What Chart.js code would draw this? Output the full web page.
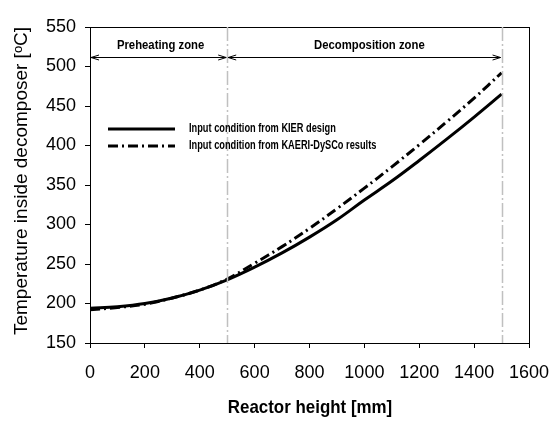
<!DOCTYPE html>
<html>
<head>
<meta charset="utf-8">
<script src="https://cdn.jsdelivr.net/npm/chart.js@4"></script>
<style>
  html, body { margin: 0; padding: 0; background: #ffffff; }
  #wrap { width: 560px; height: 428px; position: relative; }
</style>
</head>
<body>
<div id="wrap"><canvas id="tempChart" width="560" height="428"></canvas></div>
<script>
// Reactor height [mm]
const heights = [0, 100, 200, 300, 400, 500, 600, 700, 800, 900, 1000, 1100, 1200, 1300, 1400, 1500];
// Input condition from KIER design
const kierTemps = [194, 196, 200, 207, 217, 230, 246, 264, 284, 306, 331, 355, 381, 408, 436, 465];
// Input condition from KAERI-DySCo results
const kaeriTemps = [192, 195, 199, 207, 217, 231, 251, 272, 295, 320, 346, 373, 401, 430, 460, 492];

const xTicks = [0, 200, 400, 600, 800, 1000, 1200, 1400, 1600];
const yTicks = [150, 200, 250, 300, 350, 400, 450, 500, 550];

// zone boundaries and labels
const zoneBounds = [0, 500, 1500];
const zoneNames = ["Preheating zone", "Decomposition zone"];
const zoneArrowLevel = 512;

const plain = "'Liberation Sans', Arial, sans-serif";

// no narrow font installed, so squeeze Liberation Sans horizontally
function narrowText(ctx, text, x, y, squeeze) {
  ctx.save();
  ctx.translate(x, y);
  ctx.scale(squeeze, 1);
  ctx.fillText(text, 0, 0);
  ctx.restore();
}

const chartDecor = {
  id: "chartDecor",
  afterDatasetsDraw(chart) {
    const ctx = chart.ctx;
    const area = chart.chartArea;
    const xs = chart.scales.x;
    const ys = chart.scales.y;

    ctx.save();
    // plot box
    ctx.strokeStyle = "#000";
    ctx.lineWidth = 1;
    ctx.strokeRect(area.left + 0.5, area.top + 0.5, area.right - area.left, area.bottom - area.top);

    // zone boundaries
    ctx.strokeStyle = "#c0c0c0";
    ctx.lineWidth = 1.5;
    ctx.setLineDash([14, 3, 2, 3]);
    zoneBounds.slice(1).forEach((v) => {
      const px = Math.round(xs.getPixelForValue(v)) + 0.5;
      ctx.beginPath();
      ctx.moveTo(px, area.top);
      ctx.lineTo(px, area.bottom);
      ctx.stroke();
    });
    ctx.setLineDash([]);

    // zone arrows
    const ay = Math.round(ys.getPixelForValue(zoneArrowLevel)) + 0.5;
    const labelShift = [2, 5];
    ctx.strokeStyle = "#000";
    ctx.lineWidth = 1;
    ctx.fillStyle = "#000";
    ctx.font = "bold 13px " + plain;
    ctx.textAlign = "center";
    ctx.textBaseline = "middle";
    for (let i = 0; i < zoneNames.length; i++) {
      const x1 = xs.getPixelForValue(zoneBounds[i]) + 1;
      const x2 = xs.getPixelForValue(zoneBounds[i + 1]) - 1;
      ctx.beginPath();
      ctx.moveTo(x1, ay);
      ctx.lineTo(x2, ay);
      ctx.moveTo(x1 + 8, ay - 2.5);
      ctx.lineTo(x1, ay);
      ctx.lineTo(x1 + 8, ay + 2.5);
      ctx.moveTo(x2 - 8, ay - 2.5);
      ctx.lineTo(x2, ay);
      ctx.lineTo(x2 - 8, ay + 2.5);
      ctx.stroke();
      narrowText(ctx, zoneNames[i], (x1 + x2) / 2 + labelShift[i], ay - 12, 0.87);
    }

    // legend
    const legendX = 108;
    const legendY = [129, 146];
    ctx.font = "bold 12px " + plain;
    ctx.textAlign = "left";
    chart.data.datasets.forEach((ds, i) => {
      ctx.strokeStyle = ds.borderColor;
      ctx.lineWidth = ds.borderWidth;
      ctx.setLineDash(ds.borderDash || []);
      ctx.beginPath();
      ctx.moveTo(legendX, legendY[i]);
      ctx.lineTo(legendX + 67, legendY[i]);
      ctx.stroke();
      ctx.setLineDash([]);
      narrowText(ctx, ds.label, legendX + 81, legendY[i], 0.77);
    });

    // axis titles
    ctx.font = "bold 19px " + plain;
    ctx.textAlign = "center";
    narrowText(ctx, "Reactor height [mm]", 310, 408, 0.89);

    ctx.translate(22, 181);
    ctx.rotate(-Math.PI / 2);
    ctx.font = "19px " + plain;
    ctx.fillText("Temperature inside decomposer [\u1D52C]", 0, 0);
    ctx.restore();
  },
};

new Chart(document.getElementById("tempChart"), {
  type: "line",
  data: {
    datasets: [
      {
        label: "Input condition from KIER design",
        data: heights.map((h, i) => ({ x: h, y: kierTemps[i] })),
        borderColor: "#000000",
        borderWidth: 3,
        pointRadius: 0,
        tension: 0.4,
        fill: false,
      },
      {
        label: "Input condition from KAERI-DySCo results",
        data: heights.map((h, i) => ({ x: h, y: kaeriTemps[i] })),
        borderColor: "#000000",
        borderWidth: 3,
        borderDash: [10, 4, 2, 4],
        pointRadius: 0,
        tension: 0.4,
        fill: false,
      },
    ],
  },
  options: {
    responsive: false,
    animation: false,
    layout: { padding: { left: 0, top: 27, right: 31, bottom: 0 } },
    plugins: {
      legend: { display: false },
      tooltip: { enabled: false },
    },
    scales: {
      x: {
        type: "linear",
        min: 0,
        max: 1600,
        afterBuildTicks: (scale) => {
          scale.ticks = xTicks.map((v) => ({ value: v }));
        },
        afterFit: (scale) => {
          scale.height = 85;
          scale.paddingLeft = 0;
          scale.paddingRight = 0;
        },
        ticks: {
          color: "#000",
          font: { family: plain, size: 18 },
          padding: 14,
          maxRotation: 0,
          callback: (value) => String(value),
        },
        grid: {
          display: true,
          drawOnChartArea: false,
          drawTicks: true,
          tickLength: 5,
          color: "#000",
        },
        border: { display: true, color: "#000" },
      },
      y: {
        min: 150,
        max: 550,
        afterBuildTicks: (scale) => {
          scale.ticks = yTicks.map((v) => ({ value: v }));
        },
        afterFit: (scale) => {
          scale.width = 90;
          scale.paddingTop = 0;
          scale.paddingBottom = 0;
        },
        ticks: {
          color: "#000",
          font: { family: plain, size: 18 },
          padding: 9,
          callback: (value) => String(value),
        },
        grid: {
          display: true,
          drawOnChartArea: false,
          drawTicks: true,
          tickLength: 5,
          color: "#000",
        },
        border: { display: true, color: "#000" },
      },
    },
  },
  plugins: [chartDecor],
});
</script>
</body>
</html>
